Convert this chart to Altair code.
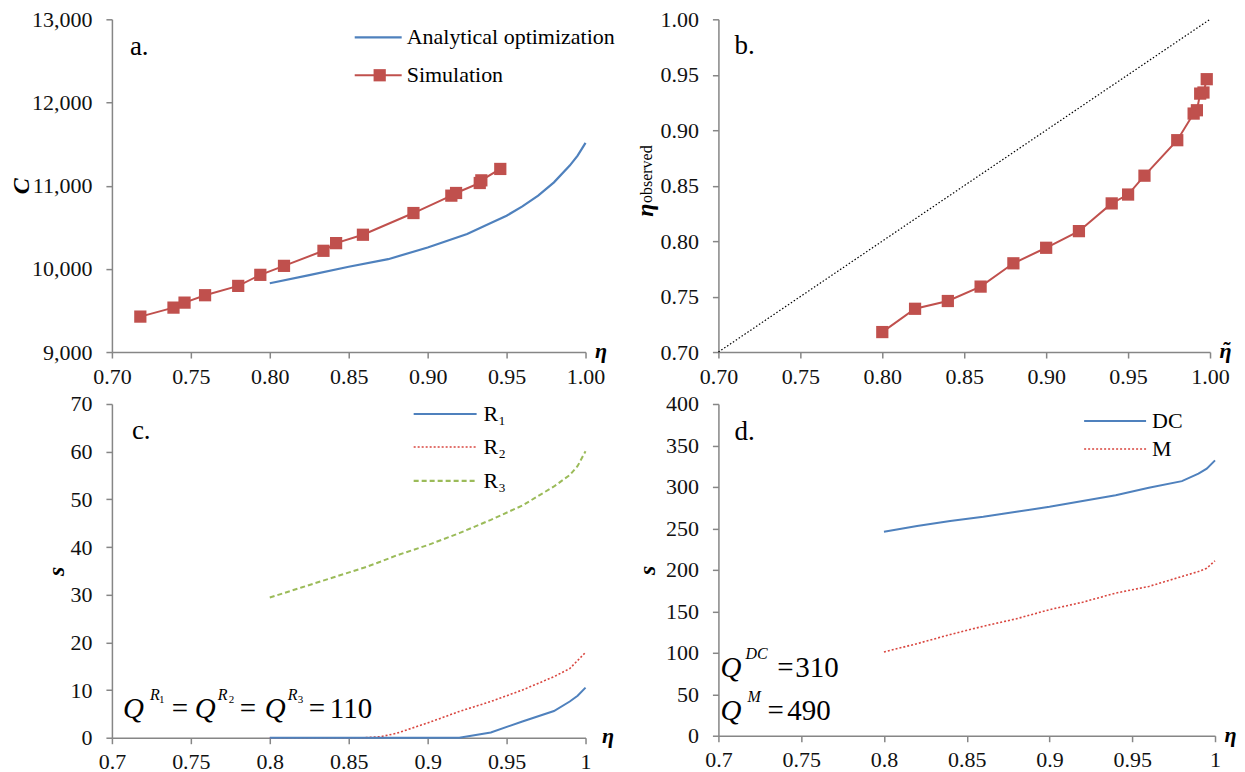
import altair as alt
import pandas as pd

SERIF = "Liberation Serif"
BLUE = "#4F81BD"
RED = "#C0504D"
RED_DOT = "#D9463F"
GREEN = "#9BBB59"
AXIS_GREY = "#868686"

# ---------------- data ----------------
# panel a
sim_eta = [0.718, 0.739, 0.746, 0.759, 0.780, 0.794, 0.809, 0.834, 0.842, 0.859,
           0.891, 0.915, 0.918, 0.933, 0.934, 0.946]
sim_cost = [9426, 9534, 9594, 9683, 9795, 9928, 10036, 10217, 10309, 10410,
            10671, 10880, 10912, 11032, 11064, 11201]
ana_eta = [0.80, 0.825, 0.85, 0.875, 0.90, 0.925, 0.94, 0.95, 0.96, 0.97, 0.98, 0.99, 0.995, 1.00]
ana_cost = [9827, 9925, 10025, 10116, 10257, 10418, 10550, 10639, 10751, 10880, 11040, 11241, 11361, 11514]
# panel b
target_eta = [0.80, 0.82, 0.84, 0.86, 0.88, 0.90, 0.92, 0.94, 0.95, 0.96,
              0.98, 0.99, 0.992, 0.994, 0.996, 0.998]
observed_eta = [0.718, 0.739, 0.746, 0.759, 0.780, 0.794, 0.809, 0.834, 0.842, 0.859,
                0.891, 0.915, 0.918, 0.933, 0.934, 0.946]
diag_vals = [0.70, 1.00]
# panel c
c_eta = [0.80, 0.82, 0.84, 0.86, 0.87, 0.88, 0.90, 0.92, 0.94, 0.96, 0.98, 0.99, 0.995, 1.00]
r1 = [0, 0, 0, 0, 0, 0, 0, 0, 1.1, 3.4, 5.6, 7.6, 8.8, 10.5]
r2 = [0, 0, 0, 0, 0.2, 0.9, 3.1, 5.5, 7.6, 10.0, 12.8, 14.5, 16.2, 17.9]
r3 = [29.4, 31.5, 33.6, 35.7, 36.9, 38.2, 40.4, 42.9, 45.7, 48.7, 52.7, 55.1, 57.0, 60.1]
# panel d
d_eta = [0.80, 0.82, 0.84, 0.86, 0.88, 0.90, 0.92, 0.94, 0.96, 0.98, 0.99, 0.995, 1.00]
dc = [246, 253, 259, 264, 270, 276, 283, 290, 299, 307, 316, 322, 332]
m_vals = [101, 111, 122, 132, 141, 152, 161, 172, 180, 192, 198, 202, 211]

# tick labels
x_ticks = [0.70, 0.75, 0.80, 0.85, 0.90, 0.95, 1.00]
a_yticks = [9000, 10000, 11000, 12000, 13000]
b_yticks = [0.70, 0.75, 0.80, 0.85, 0.90, 0.95, 1.00]
c_yticks = [0, 10, 20, 30, 40, 50, 60, 70]
d_yticks = [0, 50, 100, 150, 200, 250, 300, 350, 400]

one = pd.DataFrame({"k": [0]})


def txt(s, x, y, size, italic=False, bold=False, angle=0, align="left",
        baseline="alphabetic", color="#000000"):
    kw = dict(text=s, fontSize=size, font=SERIF, align=align, baseline=baseline, color=color)
    if italic:
        kw["fontStyle"] = "italic"
    if bold:
        kw["fontWeight"] = "bold"
    if angle:
        kw["angle"] = angle
    return alt.Chart(one).mark_text(**kw).encode(x=alt.value(x), y=alt.value(y))


def seg(x1, x2, y, color, width=2, dash=None):
    kw = dict(color=color, strokeWidth=width)
    if dash:
        kw["strokeDash"] = dash
    return alt.Chart(one).mark_rule(**kw).encode(x=alt.value(x1), x2=alt.value(x2), y=alt.value(y))


def xaxis(title, tx, ty, fmt):
    return alt.Axis(values=x_ticks, format=fmt, title=title, titleX=tx, titleY=ty, titleAngle=0,
                    titleAlign="center", titleBaseline="alphabetic", titleFont=SERIF,
                    titleFontSize=22, titleFontStyle="italic", titleFontWeight="bold",
                    titleColor="#000000")


def yaxis(values, fmt, title, tx, ty, size=24):
    if title is None:
        return alt.Axis(values=values, format=fmt, title=None)
    return alt.Axis(values=values, format=fmt, title=title, titleX=tx, titleY=ty, titleAngle=270,
                    titleAlign="center", titleBaseline="middle", titleFont=SERIF,
                    titleFontSize=size, titleFontStyle="italic", titleFontWeight="bold",
                    titleColor="#000000")


xscale = alt.Scale(domain=[0.7, 1.0], nice=False, zero=False)

# ---------------- panel a ----------------
AW, AH = 474, 333
xa = alt.X("eta:Q", scale=xscale, axis=xaxis("η", AW + 15, 5, ".2f"))
ya = alt.Y("C:Q", scale=alt.Scale(domain=[9000, 13000], nice=False, zero=False),
           axis=yaxis(a_yticks, ",.0f", "C", -90, AH / 2))
df_ana = pd.DataFrame({"eta": ana_eta, "C": ana_cost})
df_sim = pd.DataFrame({"eta": sim_eta, "C": sim_cost})
a_layers = [
    alt.Chart(df_ana).mark_line(color=BLUE, strokeWidth=2.2).encode(x=xa, y=ya),
    alt.Chart(df_sim).mark_line(color=RED, strokeWidth=2).encode(x=xa, y=ya),
    alt.Chart(df_sim).mark_point(shape="square", filled=True, size=150, color=RED, opacity=1).encode(x=xa, y=ya),
    alt.Chart(one).mark_rule(opacity=0, strokeWidth=1).encode(x=alt.value(-104), x2=alt.value(-103), y=alt.value(-11)),
    txt("a.", 18, 36, 27),
    seg(243, 290, 18, BLUE, 2.2),
    txt("Analytical optimization", 295, 18, 22, baseline="middle"),
    seg(243, 290, 56, RED, 2),
    alt.Chart(one).mark_point(shape="square", filled=True, size=150, color=RED, opacity=1).encode(x=alt.value(268), y=alt.value(56)),
    txt("Simulation", 295, 56, 22, baseline="middle"),
]
panel_a = alt.layer(*a_layers).properties(width=AW, height=AH)

# ---------------- panel b ----------------
BW, BH = 492, 333
xb = alt.X("target:Q", scale=xscale, axis=xaxis("η", BW + 15, 5, ".2f"))
yb = alt.Y("obs:Q", scale=alt.Scale(domain=[0.7, 1.0], nice=False, zero=False),
           axis=yaxis(b_yticks, ".2f", None, 0, 0))
df_b = pd.DataFrame({"target": target_eta, "obs": observed_eta})
df_diag = pd.DataFrame({"target": diag_vals, "obs": diag_vals})
b_layers = [
    alt.Chart(df_diag).mark_line(color="#000000", strokeWidth=1.2, strokeDash=[1.5, 2]).encode(x=xb, y=yb),
    alt.Chart(df_b).mark_line(color=RED, strokeWidth=2).encode(x=xb, y=yb),
    alt.Chart(df_b).mark_point(shape="square", filled=True, size=150, color=RED, opacity=1).encode(x=xb, y=yb),
    txt("b.", 16, 35, 27),
    txt("˜", BW + 17, BH + 5, 22, bold=True, align="center"),
    txt("η", -72, 191, 24, italic=True, bold=True, angle=270, align="center", baseline="middle"),
    txt("observed", -71, 155, 16, angle=270, align="center", baseline="middle"),
]
panel_b = alt.layer(*b_layers).properties(width=BW, height=BH)

# ---------------- panel c ----------------
CW, CH = 474, 334
xc = alt.X("eta:Q", scale=xscale, axis=xaxis("η", CW + 22, 5, ".2~f"))
yc = alt.Y("s:Q", scale=alt.Scale(domain=[0, 70], nice=False, zero=False),
           axis=yaxis(c_yticks, "d", "s", -55, CH / 2))
df_r1 = pd.DataFrame({"eta": c_eta, "s": r1})
df_r2 = pd.DataFrame({"eta": c_eta, "s": r2})
df_r3 = pd.DataFrame({"eta": c_eta, "s": r3})
c_layers = [
    alt.Chart(df_r3).mark_line(color=GREEN, strokeWidth=2, strokeDash=[5, 3]).encode(x=xc, y=yc),
    alt.Chart(df_r2).mark_line(color=RED_DOT, strokeWidth=1.6, strokeDash=[2, 2]).encode(x=xc, y=yc),
    alt.Chart(df_r1).mark_line(color=BLUE, strokeWidth=2).encode(x=xc, y=yc),
    txt("c.", 20, 35, 27),
    seg(302, 365, 10, BLUE, 2.2),
    txt("R₁", 372, 10, 22, baseline="middle"),
    seg(302, 365, 43, RED_DOT, 1.6, [2, 2]),
    txt("R₂", 372, 43, 22, baseline="middle"),
    seg(302, 365, 77, GREEN, 2.2, [5, 3]),
    txt("R₃", 372, 77, 22, baseline="middle"),
    # Q^{R1} = Q^{R2} = Q^{R3} = 110
    txt("Q", 11, 314, 29, italic=True),
    txt("R", 38, 296, 16, italic=True),
    txt("1", 47, 299, 11),
    txt("=", 60, 314, 29),
    txt("Q", 83, 314, 29, italic=True),
    txt("R", 106, 296, 16, italic=True),
    txt("2", 117, 299, 11),
    txt("=", 128, 314, 29),
    txt("Q", 153, 314, 29, italic=True),
    txt("R", 176, 296, 16, italic=True),
    txt("3", 186, 299, 11),
    txt("=", 197, 314, 29),
    txt("110", 218, 314, 29),
]
panel_c = alt.layer(*c_layers).properties(width=CW, height=CH)

# ---------------- panel d ----------------
DW, DH = 497, 332
xd = alt.X("eta:Q", scale=xscale, axis=xaxis("η", DW + 15, 6, ".2~f"))
yd = alt.Y("s:Q", scale=alt.Scale(domain=[0, 400], nice=False, zero=False),
           axis=yaxis(d_yticks, "d", "s", -71, DH / 2))
df_dc = pd.DataFrame({"eta": d_eta, "s": dc})
df_m = pd.DataFrame({"eta": d_eta, "s": m_vals})
d_layers = [
    alt.Chart(df_dc).mark_line(color=BLUE, strokeWidth=2).encode(x=xd, y=yd),
    alt.Chart(df_m).mark_line(color=RED_DOT, strokeWidth=1.6, strokeDash=[2, 2]).encode(x=xd, y=yd),
    txt("d.", 16, 36, 27),
    seg(366, 428, 17, BLUE, 2.2),
    txt("DC", 434, 17, 22, baseline="middle"),
    seg(366, 428, 45, RED_DOT, 1.6, [2, 2]),
    txt("M", 434, 45, 22, baseline="middle"),
    txt("Q", 2, 273, 29, italic=True),
    txt("DC", 27, 255, 16, italic=True),
    txt("=", 59, 273, 29),
    txt("310", 77, 273, 29),
    txt("Q", 2, 316, 29, italic=True),
    txt("M", 29, 298, 16, italic=True),
    txt("=", 49, 316, 29),
    txt("490", 69, 316, 29),
]
panel_d = alt.layer(*d_layers).properties(width=DW, height=DH)

chart = alt.concat(
    panel_a, panel_b, panel_c, panel_d,
    columns=2, spacing={"row": 52, "column": 133}, bounds="flush", align="none",
).properties(
    padding={"left": 0, "top": 0, "right": 0, "bottom": 0},
    background="#ffffff",
).configure_view(strokeWidth=0).configure_axis(
    domainColor=AXIS_GREY, domainWidth=1.5, tickColor=AXIS_GREY, tickWidth=1.5, tickSize=6,
    grid=False, labelFont=SERIF, labelFontSize=22, labelColor="#111111", labelPadding=8,
    labelFlush=False, labelOverlap=False,
).configure_axisY(labelPadding=14)

chart.save("out.html", embed_options={"renderer": "svg", "actions": False})
